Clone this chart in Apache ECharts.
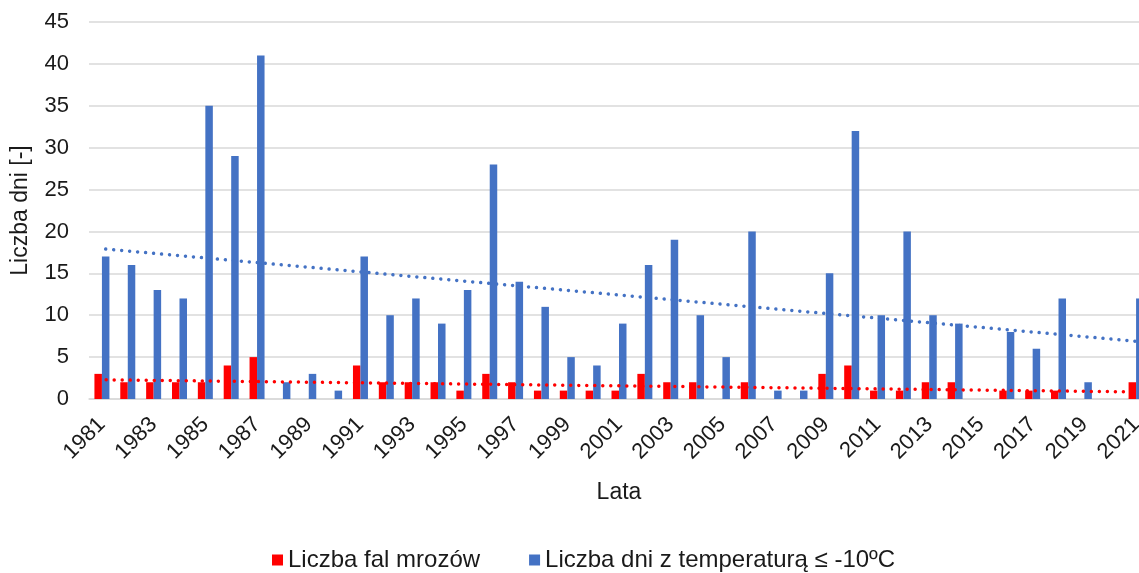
<!DOCTYPE html>
<html>
<head>
<meta charset="utf-8">
<style>
  html, body { margin: 0; padding: 0; background: #fff; }
  #chart { width: 1139px; height: 573px; }
</style>
<script src="https://cdn.jsdelivr.net/npm/echarts@6/dist/echarts.min.js"></script>
</head>
<body>
<div id="chart"></div>
<script>
// lata 1981-2021
const years = ['1981','1982','1983','1984','1985','1986','1987','1988','1989','1990',
  '1991','1992','1993','1994','1995','1996','1997','1998','1999','2000',
  '2001','2002','2003','2004','2005','2006','2007','2008','2009','2010',
  '2011','2012','2013','2014','2015','2016','2017','2018','2019','2020','2021'];

const falMrozow = [3, 2, 2, 2, 2, 4, 5, 0, 0, 0,
  4, 2, 2, 2, 1, 3, 2, 1, 1, 1,
  1, 3, 2, 2, 0, 2, 0, 0, 3, 4,
  1, 1, 2, 2, 0, 1, 1, 1, 0, 0, 2];

const dniMinus10 = [17, 16, 13, 12, 35, 29, 41, 2, 3, 1,
  17, 10, 12, 9, 13, 28, 14, 11, 5, 4,
  9, 16, 19, 10, 5, 20, 1, 1, 15, 32,
  10, 20, 10, 9, 0, 8, 6, 12, 2, 0, 12];

// linie trendu (początek i koniec)
const trendYears = ['1981', '2021'];
const trendFal = [2.3, 0.85];
const trendDni = [17.9, 6.85];

const yTicks = { min: 0, max: 45, step: 5 };

const txt = '#1a1a1a';
const font = 'Liberation Sans, Arial, sans-serif';

function trend(vals, color) {
  return {
    silent: true,
    symbol: 'none',
    label: { show: false },
    lineStyle: { color: color, width: 3.5, type: [0.01, 8], cap: 'round' },
    data: [[
      { coord: [trendYears[0], vals[0]] },
      { coord: [trendYears[1], vals[1]] }
    ]]
  };
}

const chart = echarts.init(document.getElementById('chart'));
chart.setOption({
  animation: false,
  textStyle: { fontFamily: font },
  grid: { left: 89, right: -10, top: 22, bottom: 174, outerBoundsMode: 'none' },
  legend: {
    bottom: 1,
    left: 272,
    padding: 0,
    icon: 'rect',
    itemWidth: 11,
    itemHeight: 11,
    itemGap: 49,
    textStyle: { fontSize: 24, color: txt, fontFamily: font, padding: [0, 0, 0, 0] },
    data: ['Liczba fal mrozów', 'Liczba dni z temperaturą ≤ -10ºC']
  },
  xAxis: {
    type: 'category',
    data: years,
    name: 'Lata',
    nameLocation: 'middle',
    nameGap: 82,
    nameTextStyle: { fontSize: 23, color: txt },
    axisLine: { lineStyle: { color: '#d9d9d9', width: 1.5 } },
    axisTick: { show: false },
    axisLabel: { interval: 1, rotate: 45, fontSize: 22, color: txt, margin: 22 }
  },
  yAxis: {
    type: 'value',
    min: yTicks.min,
    max: yTicks.max,
    interval: yTicks.step,
    name: 'Liczba dni [-]',
    nameLocation: 'middle',
    nameGap: 57,
    nameTextStyle: { fontSize: 23, color: txt },
    axisLabel: { fontSize: 22, color: txt, margin: 20 },
    splitLine: { lineStyle: { color: '#d9d9d9', width: 1.5 } }
  },
  series: [
    {
      name: 'Liczba fal mrozów',
      type: 'bar',
      data: falMrozow,
      barWidth: 7.5,
      barGap: '0%',
      itemStyle: { color: '#ff0000' },
      markLine: trend(trendFal, '#ff0000')
    },
    {
      name: 'Liczba dni z temperaturą ≤ -10ºC',
      type: 'bar',
      data: dniMinus10,
      barWidth: 7.5,
      barGap: '0%',
      itemStyle: { color: '#4472c4' },
      markLine: trend(trendDni, '#4472c4')
    }
  ]
});
</script>
</body>
</html>
